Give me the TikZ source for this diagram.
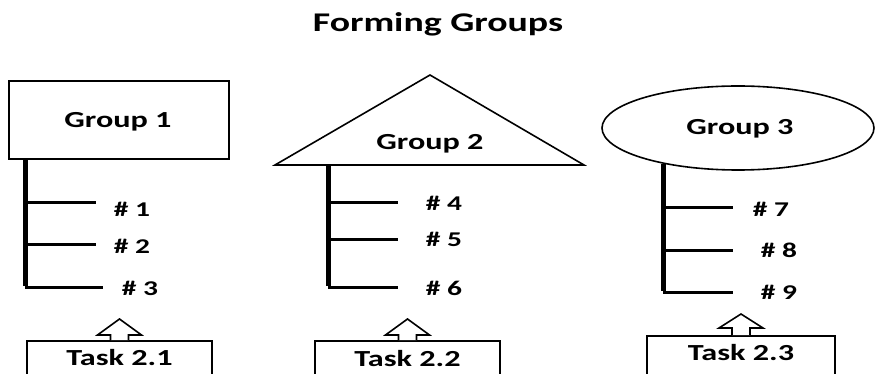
\documentclass[tikz,border=0pt]{standalone}
\usepackage{fontspec}
\setmainfont[FakeStretch=1.4]{Carlito}
\usetikzlibrary{shapes.geometric}
\begin{document}
\begin{tikzpicture}[x=1pt,y=-1pt,
  titletxt/.style={font=\bfseries\fontsize{27}{27}\selectfont, inner sep=0, anchor=base},
  grptxt/.style={font=\bfseries\fontsize{23}{23}\selectfont, inner sep=0, anchor=base},
  lbl/.style={font=\bfseries\fontsize{21}{21}\selectfont, inner sep=0, anchor=base},
  grpshape/.style={draw, line width=1.6pt, fill=white},
  trunk/.style={line width=5pt},
  branch/.style={line width=3pt},
  taskbox/.style={draw, line width=1.6pt, anchor=north, inner sep=0, minimum width=#1},
  uparrow/.style={draw, line width=1.6pt, fill=white, line join=miter}
]
\useasboundingbox (0,0) rectangle (876,374);
\clip (0,0) rectangle (876,374);

\node[titletxt] (title) at (438,32) {Forming Groups};

% ---------- Group 1 ----------
\node[grpshape, rectangle, minimum width=220pt, minimum height=78pt] (g1) at (119,120) {};
\node[grptxt] (g1t) at (118,128) {Group 1};
\coordinate (a1) at (25,0);
\coordinate (b1) at (25,203); \coordinate (e1) at (96,203);
\coordinate (b2) at (25,245); \coordinate (e2) at (96,245);
\coordinate (b3) at (25,288); \coordinate (e3) at (103,288);
\draw[trunk] (g1.south -| a1) -- ([yshift=1.5pt]b3);
\draw[branch] (b1) -- (e1);
\draw[branch] (b2) -- (e2);
\draw[branch] (b3) -- (e3);
\node[lbl] (n1) at (132,217) {\# 1};
\node[lbl] (n2) at (132,254) {\# 2};
\node[lbl] (n3) at (140,295) {\# 3};

% ---------- Group 2 ----------
\coordinate (tl) at (275,165);
\coordinate (tt) at (430,75);
\coordinate (tr) at (584,165);
\draw[grpshape] (tl) -- (tt) -- (tr) -- cycle;
\node[grptxt] (g2t) at (430,150) {Group 2};
\coordinate (a2) at (328,0);
\coordinate (b4) at (328,203); \coordinate (e4) at (398,203);
\coordinate (b5) at (328,240); \coordinate (e5) at (398,240);
\coordinate (b6) at (328,288); \coordinate (e6) at (398,288);
\draw[trunk] (tl -| a2) -- ([yshift=1.5pt]b6);
\draw[branch] (b4) -- (e4);
\draw[branch] (b5) -- (e5);
\draw[branch] (b6) -- (e6);
\node[lbl] (n4) at (444,211) {\# 4};
\node[lbl] (n5) at (444,247) {\# 5};
\node[lbl] (n6) at (444,295) {\# 6};

% ---------- Group 3 ----------
\node[grpshape, ellipse, minimum width=272pt, minimum height=84pt, inner sep=0] (g3) at (738,128) {};
\node[grptxt] (g3t) at (740,135) {Group 3};
\coordinate (a3) at (663,0);
\coordinate (b7) at (663,208); \coordinate (e7) at (733,208);
\coordinate (b8) at (663,251); \coordinate (e8) at (733,251);
\coordinate (b9) at (663,293); \coordinate (e9) at (733,293);
\draw[trunk] (g3.205 -| a3) -- ([yshift=1.5pt]b9);
\draw[branch] (b7) -- (e7);
\draw[branch] (b8) -- (e8);
\draw[branch] (b9) -- (e9);
\node[lbl] (n7) at (771,217) {\# 7};
\node[lbl] (n8) at (779,258) {\# 8};
\node[lbl] (n9) at (779,300) {\# 9};

% ---------- Tasks ----------
\node[taskbox=185pt, font=\bfseries\fontsize{23}{23}\selectfont,
      text height=15pt, text depth=60pt, inner ysep=10pt] (t1) at (119.5,340) {Task 2.1};
\node[taskbox=185pt, font=\bfseries\fontsize{23}{23}\selectfont,
      text height=15pt, text depth=60pt, inner ysep=11pt] (t2) at (407.5,340) {Task 2.2};
\node[taskbox=188pt, font=\bfseries\fontsize{23}{23}\selectfont,
      text height=15pt, text depth=7pt, inner ysep=10pt, minimum height=38pt] (t3) at (741,335) {Task 2.3};

\draw[uparrow] (t1.north) ++(-9,0) -- ++(0,-5) -- ++(-13,0) -- ++(22,-16) -- ++(22,16) -- ++(-13,0) -- ++(0,5);
\draw[uparrow] (t2.north) ++(-9,0) -- ++(0,-5) -- ++(-13,0) -- ++(22,-16) -- ++(22,16) -- ++(-13,0) -- ++(0,5);
\draw[uparrow] (t3.north) ++(-9,0) -- ++(0,-7) -- ++(-13,0) -- ++(22,-14) -- ++(22,14) -- ++(-13,0) -- ++(0,7);
\end{tikzpicture}
\end{document}
